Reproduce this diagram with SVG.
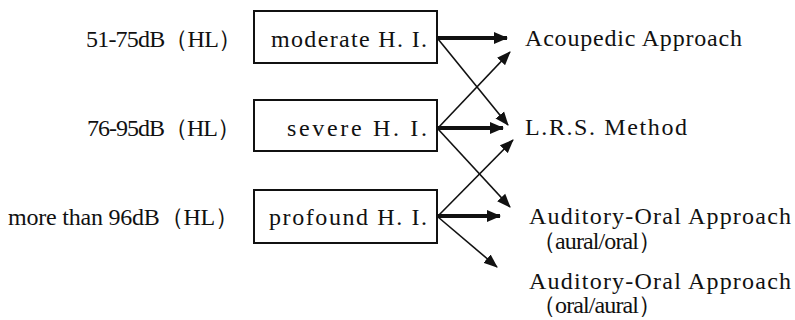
<svg xmlns="http://www.w3.org/2000/svg" width="795" height="320" viewBox="0 0 795 320">
  <style>
    .box { fill: #fff; stroke: #111; stroke-width: 2; }
    .thick { stroke: #111; stroke-width: 4; fill: none; }
    .thin { stroke: #111; stroke-width: 1.6; fill: none; }
  </style>
  <defs>
    <marker id="headBig" markerUnits="userSpaceOnUse" markerWidth="14" markerHeight="12" refX="13" refY="6" orient="auto">
      <path d="M0,0 L14,6 L0,12 z" fill="#111"/>
    </marker>
    <marker id="headSmall" markerUnits="userSpaceOnUse" markerWidth="14" markerHeight="12" refX="13" refY="6" orient="auto">
      <path d="M0,0.5 L14,6 L0,11.5 z" fill="#111"/>
    </marker>
  </defs>
  <rect width="795" height="320" fill="#fff"/>

  <!-- hearing-level ranges -->
  <g id="range-moderate">
    <text x="86" y="47" font-family="Liberation Serif" font-size="24" fill="#111" textLength="156" lengthAdjust="spacing">51-75dB（HL）</text>
  </g>
  <g id="range-severe">
    <text x="87" y="136" font-family="Liberation Serif" font-size="24" fill="#111" textLength="154" lengthAdjust="spacing">76-95dB（HL）</text>
  </g>
  <g id="range-profound">
    <text x="8" y="225" font-family="Liberation Serif" font-size="24" fill="#111" textLength="231" lengthAdjust="spacing">more than 96dB（HL）</text>
  </g>

  <!-- hearing-impairment classes -->
  <g id="moderate">
    <rect class="box" x="254" y="11" width="183" height="52"/>
    <text x="271" y="47" font-family="Liberation Serif" font-size="24" fill="#111" textLength="156" lengthAdjust="spacing">moderate  H. I.</text>
  </g>
  <g id="severe">
    <rect class="box" x="254" y="100" width="183" height="51"/>
    <text x="287" y="136" font-family="Liberation Serif" font-size="24" fill="#111" textLength="140" lengthAdjust="spacing">severe  H. I.</text>
  </g>
  <g id="profound">
    <rect class="box" x="254" y="190" width="183" height="53"/>
    <text x="269" y="225" font-family="Liberation Serif" font-size="24" fill="#111" textLength="158" lengthAdjust="spacing">profound  H. I.</text>
  </g>

  <!-- educational approaches -->
  <g id="acoupedic">
    <text x="525" y="46" font-family="Liberation Serif" font-size="24" fill="#111" textLength="217" lengthAdjust="spacing">Acoupedic  Approach</text>
  </g>
  <g id="lrs">
    <text x="525" y="135" font-family="Liberation Serif" font-size="24" fill="#111" textLength="162" lengthAdjust="spacing">L.R.S.  Method</text>
  </g>
  <g id="aural-oral">
    <text x="529" y="224" font-family="Liberation Serif" font-size="24" fill="#111" textLength="262" lengthAdjust="spacing">Auditory-Oral  Approach</text>
    <text x="532" y="249" font-family="Liberation Serif" font-size="24" fill="#111" textLength="130" lengthAdjust="spacing">（aural/oral）</text>
  </g>
  <g id="oral-aural">
    <text x="529" y="289" font-family="Liberation Serif" font-size="24" fill="#111" textLength="262" lengthAdjust="spacing">Auditory-Oral  Approach</text>
    <text x="532" y="313" font-family="Liberation Serif" font-size="24" fill="#111" textLength="130" lengthAdjust="spacing">（oral/aural）</text>
  </g>

  <!-- connectors -->
  <g id="connectors">
    <line class="thick" x1="438" y1="38" x2="507" y2="38" marker-end="url(#headBig)"/>
    <line class="thin" x1="438" y1="39" x2="508" y2="125" marker-end="url(#headSmall)"/>

    <line class="thin" x1="438" y1="128" x2="510" y2="52" marker-end="url(#headSmall)"/>
    <line class="thick" x1="438" y1="128" x2="503" y2="128" marker-end="url(#headBig)"/>
    <line class="thin" x1="438" y1="129" x2="510" y2="207" marker-end="url(#headSmall)"/>

    <line class="thin" x1="438" y1="216" x2="513" y2="140" marker-end="url(#headSmall)"/>
    <line class="thick" x1="438" y1="216" x2="500" y2="216" marker-end="url(#headBig)"/>
    <line class="thin" x1="438" y1="217" x2="497" y2="267" marker-end="url(#headSmall)"/>
  </g>
</svg>
